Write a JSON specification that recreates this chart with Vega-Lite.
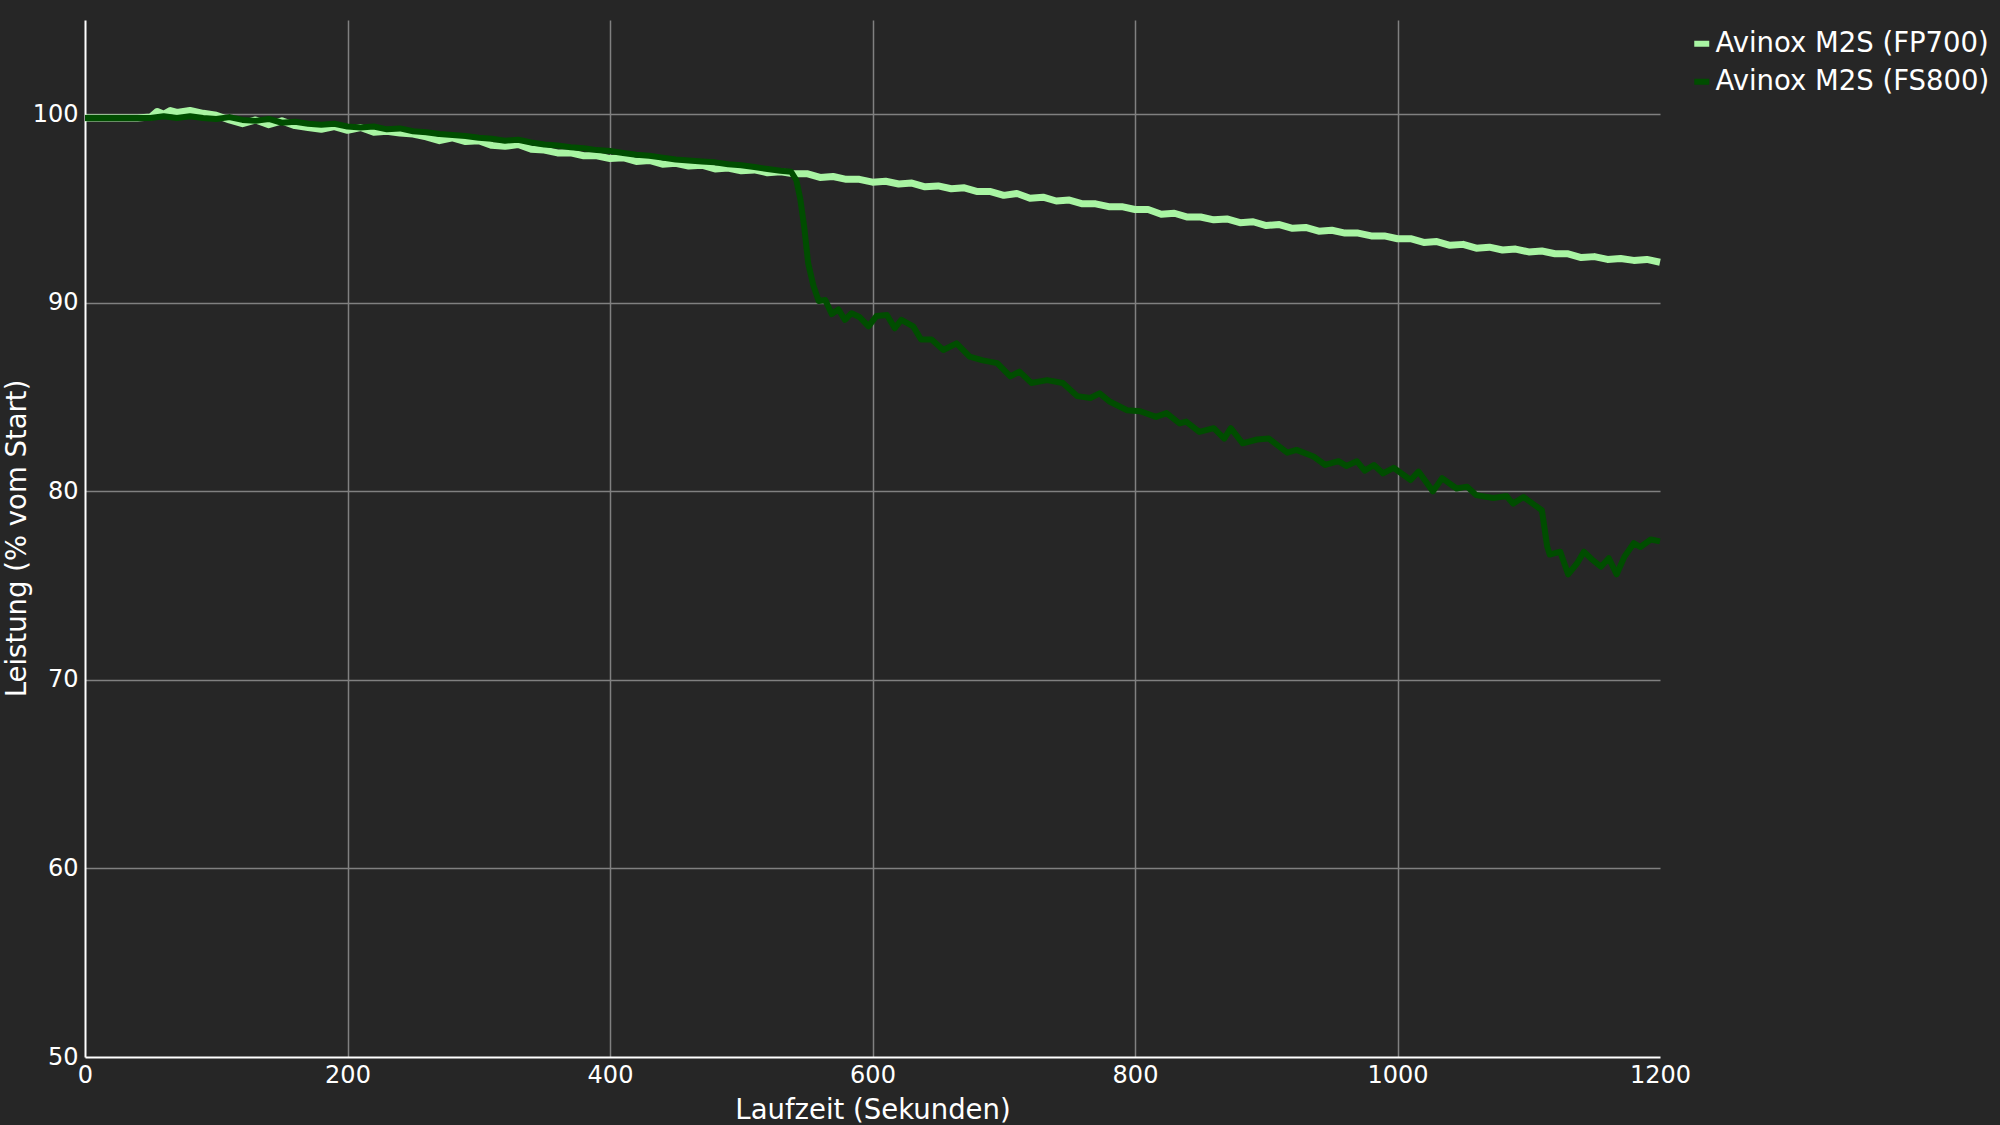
{
  "$schema": "https://vega.github.io/schema/vega-lite/v6.json",
  "autosize": {"type": "none"},
  "padding": {"left": 85, "top": 20, "right": 340, "bottom": 68},
  "width": 1575,
  "height": 1037,
  "background": "#262626",
  "config": {
    "view": {"stroke": null},
    "font": "DejaVu Sans",
    "axis": {
      "labelFont": "DejaVu Sans",
      "titleFont": "DejaVu Sans",
      "labelColor": "#ffffff",
      "titleColor": "#ffffff",
      "labelFontSize": 24,
      "titleFontSize": 27.5,
      "titleFontWeight": "normal",
      "ticks": false,
      "tickSize": 0,
      "domainColor": "#ffffff",
      "domainWidth": 2,
      "gridColor": "#808080",
      "gridWidth": 1.5
    },
    "legend": {
      "labelFont": "DejaVu Sans",
      "labelColor": "#ffffff",
      "labelFontSize": 27.5,
      "labelLimit": 0
    }
  },
  "datasets": {
    "fp700": [
      {"t": 0, "v": 99.8}, {"t": 10, "v": 99.8}, {"t": 20, "v": 99.8}, {"t": 30, "v": 99.8}, {"t": 40, "v": 99.8},
      {"t": 50, "v": 99.85}, {"t": 55, "v": 100.15}, {"t": 60, "v": 100.0}, {"t": 65, "v": 100.2}, {"t": 70, "v": 100.1},
      {"t": 80, "v": 100.2}, {"t": 90, "v": 100.05}, {"t": 100, "v": 99.95}, {"t": 110, "v": 99.7}, {"t": 120, "v": 99.5},
      {"t": 130, "v": 99.7}, {"t": 140, "v": 99.45}, {"t": 150, "v": 99.65}, {"t": 160, "v": 99.4}, {"t": 170, "v": 99.3},
      {"t": 180, "v": 99.2}, {"t": 190, "v": 99.35}, {"t": 200, "v": 99.15}, {"t": 210, "v": 99.3}, {"t": 220, "v": 99.05},
      {"t": 230, "v": 99.1}, {"t": 240, "v": 99.0}, {"t": 250, "v": 98.95}, {"t": 260, "v": 98.8}, {"t": 270, "v": 98.6},
      {"t": 280, "v": 98.75}, {"t": 290, "v": 98.55}, {"t": 300, "v": 98.6}, {"t": 310, "v": 98.35}, {"t": 320, "v": 98.3},
      {"t": 330, "v": 98.4}, {"t": 340, "v": 98.15}, {"t": 350, "v": 98.1}, {"t": 360, "v": 97.95}, {"t": 370, "v": 97.95},
      {"t": 380, "v": 97.8}, {"t": 390, "v": 97.8}, {"t": 400, "v": 97.65}, {"t": 410, "v": 97.7}, {"t": 420, "v": 97.5},
      {"t": 430, "v": 97.55}, {"t": 440, "v": 97.35}, {"t": 450, "v": 97.4}, {"t": 460, "v": 97.25}, {"t": 470, "v": 97.3},
      {"t": 480, "v": 97.1}, {"t": 490, "v": 97.15}, {"t": 500, "v": 97.0}, {"t": 510, "v": 97.05}, {"t": 520, "v": 96.9},
      {"t": 530, "v": 96.95}, {"t": 540, "v": 96.85}, {"t": 550, "v": 96.85}, {"t": 560, "v": 96.65}, {"t": 570, "v": 96.7},
      {"t": 580, "v": 96.55}, {"t": 590, "v": 96.55}, {"t": 600, "v": 96.4}, {"t": 610, "v": 96.45}, {"t": 620, "v": 96.3},
      {"t": 630, "v": 96.35}, {"t": 640, "v": 96.15}, {"t": 650, "v": 96.2}, {"t": 660, "v": 96.05}, {"t": 670, "v": 96.1},
      {"t": 680, "v": 95.9}, {"t": 690, "v": 95.9}, {"t": 700, "v": 95.7}, {"t": 710, "v": 95.8}, {"t": 720, "v": 95.55},
      {"t": 730, "v": 95.6}, {"t": 740, "v": 95.4}, {"t": 750, "v": 95.45}, {"t": 760, "v": 95.25}, {"t": 770, "v": 95.25},
      {"t": 780, "v": 95.1}, {"t": 790, "v": 95.1}, {"t": 800, "v": 94.95}, {"t": 810, "v": 94.95}, {"t": 820, "v": 94.7},
      {"t": 830, "v": 94.75}, {"t": 840, "v": 94.55}, {"t": 850, "v": 94.55}, {"t": 860, "v": 94.4}, {"t": 870, "v": 94.45},
      {"t": 880, "v": 94.25}, {"t": 890, "v": 94.3}, {"t": 900, "v": 94.1}, {"t": 910, "v": 94.15}, {"t": 920, "v": 93.95},
      {"t": 930, "v": 94.0}, {"t": 940, "v": 93.8}, {"t": 950, "v": 93.85}, {"t": 960, "v": 93.7}, {"t": 970, "v": 93.7},
      {"t": 980, "v": 93.55}, {"t": 990, "v": 93.55}, {"t": 1000, "v": 93.4}, {"t": 1010, "v": 93.4}, {"t": 1020, "v": 93.2},
      {"t": 1030, "v": 93.25}, {"t": 1040, "v": 93.05}, {"t": 1050, "v": 93.1}, {"t": 1060, "v": 92.9}, {"t": 1070, "v": 92.95},
      {"t": 1080, "v": 92.8}, {"t": 1090, "v": 92.85}, {"t": 1100, "v": 92.7}, {"t": 1110, "v": 92.75}, {"t": 1120, "v": 92.6},
      {"t": 1130, "v": 92.6}, {"t": 1140, "v": 92.4}, {"t": 1150, "v": 92.45}, {"t": 1160, "v": 92.3}, {"t": 1170, "v": 92.35},
      {"t": 1180, "v": 92.25}, {"t": 1190, "v": 92.3}, {"t": 1200, "v": 92.15}
    ],
    "fs800": [
      {"t": 0, "v": 99.8}, {"t": 10, "v": 99.8}, {"t": 20, "v": 99.8}, {"t": 30, "v": 99.8}, {"t": 40, "v": 99.8},
      {"t": 50, "v": 99.8}, {"t": 60, "v": 99.9}, {"t": 70, "v": 99.8}, {"t": 80, "v": 99.9}, {"t": 90, "v": 99.8},
      {"t": 100, "v": 99.75}, {"t": 110, "v": 99.85}, {"t": 120, "v": 99.7}, {"t": 130, "v": 99.65}, {"t": 140, "v": 99.75},
      {"t": 150, "v": 99.55}, {"t": 160, "v": 99.6}, {"t": 170, "v": 99.5}, {"t": 180, "v": 99.45}, {"t": 190, "v": 99.5},
      {"t": 200, "v": 99.35}, {"t": 210, "v": 99.3}, {"t": 220, "v": 99.35}, {"t": 230, "v": 99.2}, {"t": 240, "v": 99.25},
      {"t": 250, "v": 99.1}, {"t": 260, "v": 99.05}, {"t": 270, "v": 98.95}, {"t": 280, "v": 98.9}, {"t": 290, "v": 98.85},
      {"t": 300, "v": 98.75}, {"t": 310, "v": 98.7}, {"t": 320, "v": 98.6}, {"t": 330, "v": 98.65}, {"t": 340, "v": 98.5},
      {"t": 350, "v": 98.4}, {"t": 360, "v": 98.35}, {"t": 370, "v": 98.25}, {"t": 380, "v": 98.2}, {"t": 390, "v": 98.1},
      {"t": 400, "v": 98.05}, {"t": 410, "v": 97.95}, {"t": 420, "v": 97.85}, {"t": 430, "v": 97.8}, {"t": 440, "v": 97.7},
      {"t": 450, "v": 97.6}, {"t": 460, "v": 97.55}, {"t": 470, "v": 97.5}, {"t": 480, "v": 97.45}, {"t": 490, "v": 97.35},
      {"t": 500, "v": 97.3}, {"t": 510, "v": 97.2}, {"t": 520, "v": 97.1}, {"t": 530, "v": 97.0}, {"t": 538, "v": 96.95},
      {"t": 542, "v": 96.5}, {"t": 545, "v": 95.5}, {"t": 548, "v": 94.0}, {"t": 551, "v": 92.1}, {"t": 555, "v": 90.9},
      {"t": 559, "v": 90.1}, {"t": 564, "v": 90.15}, {"t": 569, "v": 89.4}, {"t": 574, "v": 89.65}, {"t": 579, "v": 89.1},
      {"t": 584, "v": 89.45}, {"t": 590, "v": 89.25}, {"t": 597, "v": 88.75}, {"t": 603, "v": 89.3}, {"t": 611, "v": 89.35},
      {"t": 617, "v": 88.65}, {"t": 622, "v": 89.1}, {"t": 631, "v": 88.75}, {"t": 637, "v": 88.05}, {"t": 645, "v": 88.05},
      {"t": 654, "v": 87.5}, {"t": 664, "v": 87.85}, {"t": 674, "v": 87.15}, {"t": 684, "v": 86.95}, {"t": 695, "v": 86.8},
      {"t": 705, "v": 86.1}, {"t": 712, "v": 86.35}, {"t": 721, "v": 85.75}, {"t": 733, "v": 85.9}, {"t": 745, "v": 85.75},
      {"t": 756, "v": 85.05}, {"t": 766, "v": 84.95}, {"t": 773, "v": 85.2}, {"t": 781, "v": 84.75}, {"t": 794, "v": 84.3},
      {"t": 804, "v": 84.25}, {"t": 816, "v": 83.95}, {"t": 824, "v": 84.15}, {"t": 834, "v": 83.6}, {"t": 839, "v": 83.7},
      {"t": 849, "v": 83.15}, {"t": 860, "v": 83.35}, {"t": 868, "v": 82.8}, {"t": 873, "v": 83.35}, {"t": 882, "v": 82.55},
      {"t": 893, "v": 82.75}, {"t": 902, "v": 82.8}, {"t": 916, "v": 82.05}, {"t": 923, "v": 82.2}, {"t": 936, "v": 81.85},
      {"t": 945, "v": 81.4}, {"t": 955, "v": 81.6}, {"t": 961, "v": 81.35}, {"t": 969, "v": 81.6}, {"t": 975, "v": 81.1},
      {"t": 982, "v": 81.4}, {"t": 989, "v": 80.95}, {"t": 997, "v": 81.25}, {"t": 1010, "v": 80.6}, {"t": 1016, "v": 81.05},
      {"t": 1027, "v": 80.0}, {"t": 1034, "v": 80.7}, {"t": 1045, "v": 80.15}, {"t": 1053, "v": 80.25}, {"t": 1060, "v": 79.8},
      {"t": 1073, "v": 79.65}, {"t": 1083, "v": 79.75}, {"t": 1088, "v": 79.35}, {"t": 1096, "v": 79.7}, {"t": 1104, "v": 79.3},
      {"t": 1110, "v": 79.0}, {"t": 1114, "v": 77.1}, {"t": 1116, "v": 76.65}, {"t": 1124, "v": 76.8}, {"t": 1130, "v": 75.6},
      {"t": 1137, "v": 76.2}, {"t": 1142, "v": 76.8}, {"t": 1148, "v": 76.4}, {"t": 1155, "v": 76.0}, {"t": 1161, "v": 76.45},
      {"t": 1167, "v": 75.6}, {"t": 1173, "v": 76.55}, {"t": 1180, "v": 77.25}, {"t": 1185, "v": 77.05}, {"t": 1193, "v": 77.45},
      {"t": 1200, "v": 77.35}
    ]
  },
  "encoding": {
    "x": {
      "field": "t", "type": "quantitative",
      "scale": {"domain": [0, 1200], "nice": false, "zero": false},
      "axis": {
        "values": [0, 200, 400, 600, 800, 1000, 1200],
        "format": "d",
        "title": "Laufzeit (Sekunden)",
        "labelPadding": 6,
        "labelFlush": false,
        "titleY": 53,
        "titleBaseline": "middle",
        "gridColor": {"condition": {"test": "datum.value === 1200 || datum.value === 0", "value": "transparent"}, "value": "#808080"}
      }
    },
    "y": {
      "field": "v", "type": "quantitative",
      "scale": {"domain": [50, 105], "nice": false, "zero": false},
      "axis": {
        "values": [50, 60, 70, 80, 90, 100],
        "format": "d",
        "title": "Leistung (% vom Start)",
        "labelPadding": 7,
        "labelFlush": false,
        "titleX": -68,
        "titleY": 518,
        "titleAngle": -90,
        "titleBaseline": "middle",
        "titleAlign": "center",
        "gridColor": {"condition": {"test": "datum.value === 50", "value": "transparent"}, "value": "#808080"}
      }
    },
    "color": {
      "field": "series", "type": "nominal",
      "scale": {"domain": ["Avinox M2S (FP700)", "Avinox M2S (FS800)"], "range": ["#a9f5a3", "#004d00"]},
      "legend": {
        "title": null,
        "orient": "none",
        "legendX": 1603,
        "legendY": 10,
        "symbolType": "stroke",
        "symbolSize": 225,
        "symbolStrokeWidth": 6,
        "labelOffset": 0,
        "rowPadding": 9,
        "padding": 0
      }
    }
  },
  "layer": [
    {
      "data": {"name": "fp700"},
      "transform": [{"calculate": "'Avinox M2S (FP700)'", "as": "series"}],
      "mark": {"type": "line", "strokeWidth": 7, "strokeJoin": "round"}
    },
    {
      "data": {"name": "fs800"},
      "transform": [{"calculate": "'Avinox M2S (FS800)'", "as": "series"}],
      "mark": {"type": "line", "strokeWidth": 6, "strokeJoin": "round"}
    }
  ]
}
